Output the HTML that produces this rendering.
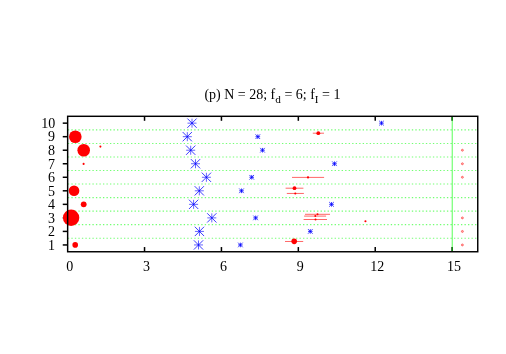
<!DOCTYPE html>
<html><head><meta charset="utf-8"><title>plot</title>
<style>
html,body{margin:0;padding:0;background:#fff;}
body{width:506px;height:354px;overflow:hidden;}
svg{display:block;will-change:transform;}
text{font-family:"Liberation Serif",serif;fill:#000;}
</style></head><body>
<svg width="506" height="354" viewBox="0 0 506 354">
<rect width="506" height="354" fill="#fff"/>
<g stroke="#000" stroke-width="1.5" fill="none">
<line x1="62.75" y1="244.95" x2="67.65" y2="244.95"/>
<line x1="62.75" y1="231.41" x2="67.65" y2="231.41"/>
<line x1="62.75" y1="217.88" x2="67.65" y2="217.88"/>
<line x1="62.75" y1="204.35" x2="67.65" y2="204.35"/>
<line x1="62.75" y1="190.81" x2="67.65" y2="190.81"/>
<line x1="62.75" y1="177.28" x2="67.65" y2="177.28"/>
<line x1="62.75" y1="163.75" x2="67.65" y2="163.75"/>
<line x1="62.75" y1="150.22" x2="67.65" y2="150.22"/>
<line x1="62.75" y1="136.68" x2="67.65" y2="136.68"/>
<line x1="62.75" y1="123.15" x2="67.65" y2="123.15"/>
<line x1="144.54" y1="116.30" x2="144.54" y2="120.80"/>
<line x1="144.54" y1="251.75" x2="144.54" y2="247.05"/>
<line x1="221.44" y1="116.30" x2="221.44" y2="120.80"/>
<line x1="221.44" y1="251.75" x2="221.44" y2="247.05"/>
<line x1="298.33" y1="116.30" x2="298.33" y2="120.80"/>
<line x1="298.33" y1="251.75" x2="298.33" y2="247.05"/>
<line x1="375.23" y1="116.30" x2="375.23" y2="120.80"/>
<line x1="375.23" y1="251.75" x2="375.23" y2="247.05"/>
<line x1="452.12" y1="116.30" x2="452.12" y2="120.80"/>
<line x1="452.12" y1="251.75" x2="452.12" y2="247.05"/>
</g>
<g stroke="#00ff00" stroke-opacity="0.55" stroke-width="1.1" stroke-dasharray="1.35 2.16" fill="none">
<line x1="67.85" y1="238.18" x2="477.75" y2="238.18"/>
<line x1="67.85" y1="224.65" x2="477.75" y2="224.65"/>
<line x1="67.85" y1="211.11" x2="477.75" y2="211.11"/>
<line x1="67.85" y1="197.58" x2="477.75" y2="197.58"/>
<line x1="67.85" y1="184.05" x2="477.75" y2="184.05"/>
<line x1="67.85" y1="170.52" x2="477.75" y2="170.52"/>
<line x1="67.85" y1="156.98" x2="477.75" y2="156.98"/>
<line x1="67.85" y1="143.45" x2="477.75" y2="143.45"/>
<line x1="67.85" y1="129.92" x2="477.75" y2="129.92"/>
</g>
<line x1="452.3" y1="116.30" x2="452.3" y2="251.75" stroke="#00ff00" stroke-opacity="0.47" stroke-width="1.4"/>
<g stroke="#0000ff" fill="none" stroke-width="0.9">
<path stroke-opacity="0.68" d="M187.50 123.15H196.50M192.00 118.65V127.65"/><path stroke-opacity="0.85" d="M187.35 118.50L196.65 127.80M187.35 127.80L196.65 118.50"/>
<path stroke-opacity="0.68" d="M182.80 136.68H191.80M187.30 132.18V141.18"/><path stroke-opacity="0.85" d="M182.65 132.03L191.95 141.33M182.65 141.33L191.95 132.03"/>
<path stroke-opacity="0.68" d="M186.20 150.22H195.20M190.70 145.72V154.72"/><path stroke-opacity="0.85" d="M186.05 145.57L195.35 154.87M186.05 154.87L195.35 145.57"/>
<path stroke-opacity="0.68" d="M191.00 163.75H200.00M195.50 159.25V168.25"/><path stroke-opacity="0.85" d="M190.85 159.10L200.15 168.40M190.85 168.40L200.15 159.10"/>
<path stroke-opacity="0.68" d="M201.90 177.28H210.90M206.40 172.78V181.78"/><path stroke-opacity="0.85" d="M201.75 172.63L211.05 181.93M201.75 181.93L211.05 172.63"/>
<path stroke-opacity="0.68" d="M194.80 190.81H203.80M199.30 186.31V195.31"/><path stroke-opacity="0.85" d="M194.65 186.16L203.95 195.47M194.65 195.47L203.95 186.16"/>
<path stroke-opacity="0.68" d="M189.10 204.35H198.10M193.60 199.85V208.85"/><path stroke-opacity="0.85" d="M188.95 199.70L198.25 209.00M188.95 209.00L198.25 199.70"/>
<path stroke-opacity="0.68" d="M207.30 217.88H216.30M211.80 213.38V222.38"/><path stroke-opacity="0.85" d="M207.15 213.23L216.45 222.53M207.15 222.53L216.45 213.23"/>
<path stroke-opacity="0.68" d="M194.95 231.41H203.95M199.45 226.91V235.91"/><path stroke-opacity="0.85" d="M194.80 226.76L204.10 236.06M194.80 236.06L204.10 226.76"/>
<path stroke-opacity="0.68" d="M194.00 244.95H203.00M198.50 240.45V249.45"/><path stroke-opacity="0.85" d="M193.85 240.30L203.15 249.60M193.85 249.60L203.15 240.30"/>
<path stroke-opacity="0.85" d="M379.20 123.15H383.80M381.50 120.85V125.45M379.20 120.85L383.80 125.45M379.20 125.45L383.80 120.85"/>
<path stroke-opacity="0.85" d="M255.50 136.68H260.10M257.80 134.38V138.98M255.50 134.38L260.10 138.98M255.50 138.98L260.10 134.38"/>
<path stroke-opacity="0.85" d="M260.20 150.22H264.80M262.50 147.92V152.52M260.20 147.92L264.80 152.52M260.20 152.52L264.80 147.92"/>
<path stroke-opacity="0.85" d="M332.20 163.75H336.80M334.50 161.45V166.05M332.20 161.45L336.80 166.05M332.20 166.05L336.80 161.45"/>
<path stroke-opacity="0.85" d="M249.40 177.28H254.00M251.70 174.98V179.58M249.40 174.98L254.00 179.58M249.40 179.58L254.00 174.98"/>
<path stroke-opacity="0.85" d="M239.20 190.81H243.80M241.50 188.51V193.12M239.20 188.51L243.80 193.12M239.20 193.12L243.80 188.51"/>
<path stroke-opacity="0.85" d="M329.20 204.35H333.80M331.50 202.05V206.65M329.20 202.05L333.80 206.65M329.20 206.65L333.80 202.05"/>
<path stroke-opacity="0.85" d="M253.30 217.88H257.90M255.60 215.58V220.18M253.30 215.58L257.90 220.18M253.30 220.18L257.90 215.58"/>
<path stroke-opacity="0.85" d="M308.00 231.41H312.60M310.30 229.11V233.71M308.00 229.11L312.60 233.71M308.00 233.71L312.60 229.11"/>
<path stroke-opacity="0.85" d="M238.10 244.95H242.70M240.40 242.65V247.25M238.10 242.65L242.70 247.25M238.10 247.25L242.70 242.65"/>
</g>
<g stroke="#ff0000" stroke-opacity="0.6" stroke-width="1.0" fill="none">
<line x1="312.8" y1="133.2" x2="324.0" y2="133.2"/>
<line x1="292.0" y1="177.4" x2="324.1" y2="177.4"/>
<line x1="285.6" y1="188.2" x2="303.4" y2="188.2"/>
<line x1="286.8" y1="193.45" x2="303.9" y2="193.45"/>
<line x1="305.0" y1="214.3" x2="330.0" y2="214.3"/>
<line x1="304.1" y1="216.1" x2="326.1" y2="216.1"/>
<line x1="303.6" y1="219.5" x2="327.0" y2="219.5"/>
<line x1="285.0" y1="241.48" x2="303.2" y2="241.48"/>
</g>
<g fill="#ff0000">
<circle cx="318.3" cy="133.2" r="1.9"/>
<circle cx="308.0" cy="177.4" r="1.15"/>
<circle cx="294.5" cy="188.2" r="1.9"/>
<circle cx="295.3" cy="193.45" r="1.05"/>
<circle cx="317.5" cy="214.3" r="1.0"/>
<circle cx="315.3" cy="216.1" r="1.0"/>
<circle cx="315.5" cy="219.5" r="1.0"/>
<circle cx="294.2" cy="241.35" r="2.8"/>
<circle cx="100.4" cy="146.6" r="1.05"/>
<circle cx="83.6" cy="163.9" r="1.05"/>
<circle cx="365.45" cy="221.3" r="1.05"/>
<circle cx="75.3" cy="136.72" r="6.3"/>
<circle cx="83.7" cy="150.25" r="6.3"/>
<circle cx="74.05" cy="190.75" r="5.3"/>
<circle cx="83.7" cy="204.35" r="2.9"/>
<circle cx="71.1" cy="217.8" r="8.2"/>
<circle cx="75.2" cy="244.9" r="2.8"/>
</g>
<g stroke="#ff0000" stroke-opacity="0.65" stroke-width="0.7" fill="#ff0000" fill-opacity="0.3">
<circle cx="462.4" cy="150.22" r="1.0"/>
<circle cx="462.4" cy="163.75" r="1.0"/>
<circle cx="462.4" cy="177.28" r="1.0"/>
<circle cx="462.4" cy="217.88" r="1.0"/>
<circle cx="462.4" cy="231.41" r="1.0"/>
<circle cx="462.4" cy="244.95" r="1.0"/>
</g>
<rect x="67.65" y="116.30" width="410.10" height="135.45" fill="none" stroke="#000" stroke-width="1.45"/>
<g font-size="14px">
<text x="55.0" y="249.70" text-anchor="end">1</text>
<text x="55.0" y="236.16" text-anchor="end">2</text>
<text x="55.0" y="222.63" text-anchor="end">3</text>
<text x="55.0" y="209.10" text-anchor="end">4</text>
<text x="55.0" y="195.56" text-anchor="end">5</text>
<text x="55.0" y="182.03" text-anchor="end">6</text>
<text x="55.0" y="168.50" text-anchor="end">7</text>
<text x="55.0" y="154.97" text-anchor="end">8</text>
<text x="55.0" y="141.43" text-anchor="end">9</text>
<text x="55.35" y="127.90" text-anchor="end">10</text>
<text x="69.65" y="270.7" text-anchor="middle">0</text>
<text x="146.54" y="270.7" text-anchor="middle">3</text>
<text x="223.44" y="270.7" text-anchor="middle">6</text>
<text x="300.33" y="270.7" text-anchor="middle">9</text>
<text x="377.23" y="270.7" text-anchor="middle">12</text>
<text x="454.12" y="270.7" text-anchor="middle">15</text>
<text x="204.4" y="98.6">(p) N = 28; f<tspan font-size="11.2px" dy="4.2">d</tspan><tspan dy="-4.2"> = 6; f</tspan><tspan font-size="11.2px" dy="4.2">I</tspan><tspan dy="-4.2"> = 1</tspan></text>
</g>
</svg>
</body></html>
